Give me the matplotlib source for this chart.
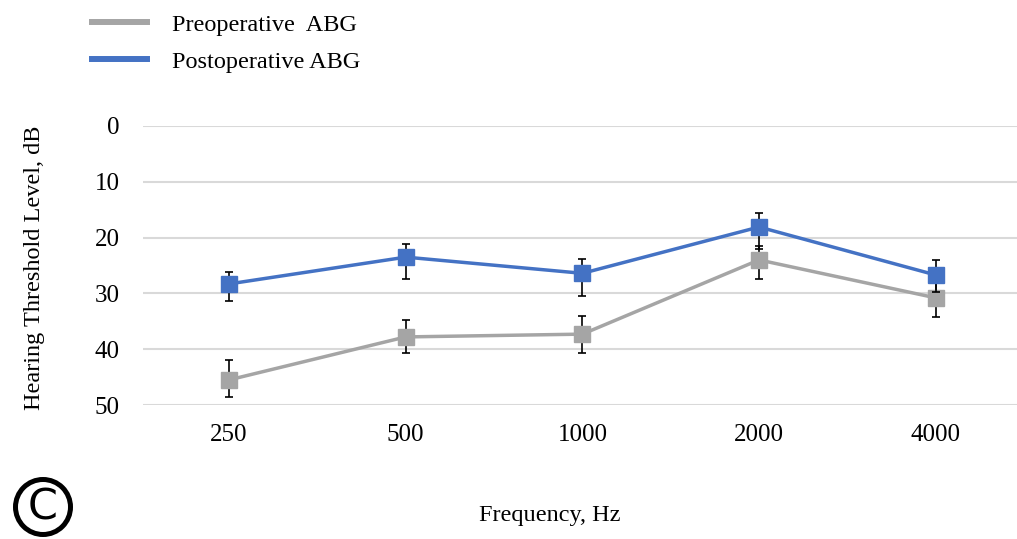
import matplotlib
matplotlib.use("Agg")
import matplotlib.pyplot as plt
import numpy as np
from matplotlib.lines import Line2D
from matplotlib.patches import Circle

freqs = ["250", "500", "1000", "2000", "4000"]
pre_abg = [45.5, 37.8, 37.3, 24.0, 30.8]
pre_err_low = [3.6, 3.0, 3.3, 2.5, 3.2]   # toward smaller dB (upwards)
pre_err_high = [3.0, 2.9, 3.3, 3.4, 3.5]  # toward larger dB (downwards)
post_abg = [28.3, 23.5, 26.4, 18.1, 26.7]
post_err_low = [2.2, 2.4, 2.5, 2.5, 2.6]
post_err_high = [3.1, 3.9, 4.1, 3.9, 3.0]
yticks = [0, 10, 20, 30, 40, 50]

plt.rcParams['font.family'] = ['Liberation Serif', 'DejaVu Serif']

fig = plt.figure(figsize=(10.17, 5.39), dpi=100)
ax = fig.add_axes([143/1017, 1-405/539, (1017-143)/1017, (405-126)/539])

x = np.arange(len(freqs))
gray = "#A5A5A5"
blue = "#4472C4"

ax.errorbar(x, pre_abg, yerr=[pre_err_low, pre_err_high], color=gray, lw=2.5,
            marker='s', markersize=11.5, ecolor='black', elinewidth=1.2,
            capsize=3, capthick=1.2, zorder=3)
ax.errorbar(x, post_abg, yerr=[post_err_low, post_err_high], color=blue, lw=2.5,
            marker='s', markersize=11.5, ecolor='black', elinewidth=1.2,
            capsize=3, capthick=1.2, zorder=4)

ax.set_xlim(-0.487, 4.46)
ax.set_ylim(50, 0)
ax.set_yticks(yticks)
ax.set_xticks(x)
ax.set_xticklabels(freqs)
ax.tick_params(axis='both', length=0, labelsize=18)
ax.tick_params(axis='y', pad=17)
ax.tick_params(axis='x', pad=14)
ax.grid(axis='y', color='#D9D9D9', lw=1.5)
ax.set_axisbelow(True)
for s in ax.spines.values():
    s.set_visible(False)

fig.text(35/1017, 1-268/539, "Hearing Threshold Level, dB", rotation=90,
         ha='center', va='center', fontsize=17.5)
fig.text(550/1017, 1-515/539, "Frequency, Hz", ha='center', va='center', fontsize=17.5)

handles = [Line2D([], [], color=gray, lw=4.3), Line2D([], [], color=blue, lw=4.3)]
fig.legend(handles, ["Preoperative  ABG", "Postoperative ABG"],
           loc='upper left', bbox_to_anchor=(70/1017, 1 + 8/539), frameon=False,
           fontsize=17.5, handlelength=2.26, handletextpad=1.03, labelspacing=0.62)

# circled "C" panel marker
circ = Circle((0.43, 0.32), 0.275, transform=fig.dpi_scale_trans,
              fill=False, ec='black', lw=3.6)
fig.add_artist(circ)
fig.text(0.43, 0.32, "C", transform=fig.dpi_scale_trans, ha='center', va='center',
         fontsize=31, family='DejaVu Sans')

fig.savefig("out.png", dpi=100)
